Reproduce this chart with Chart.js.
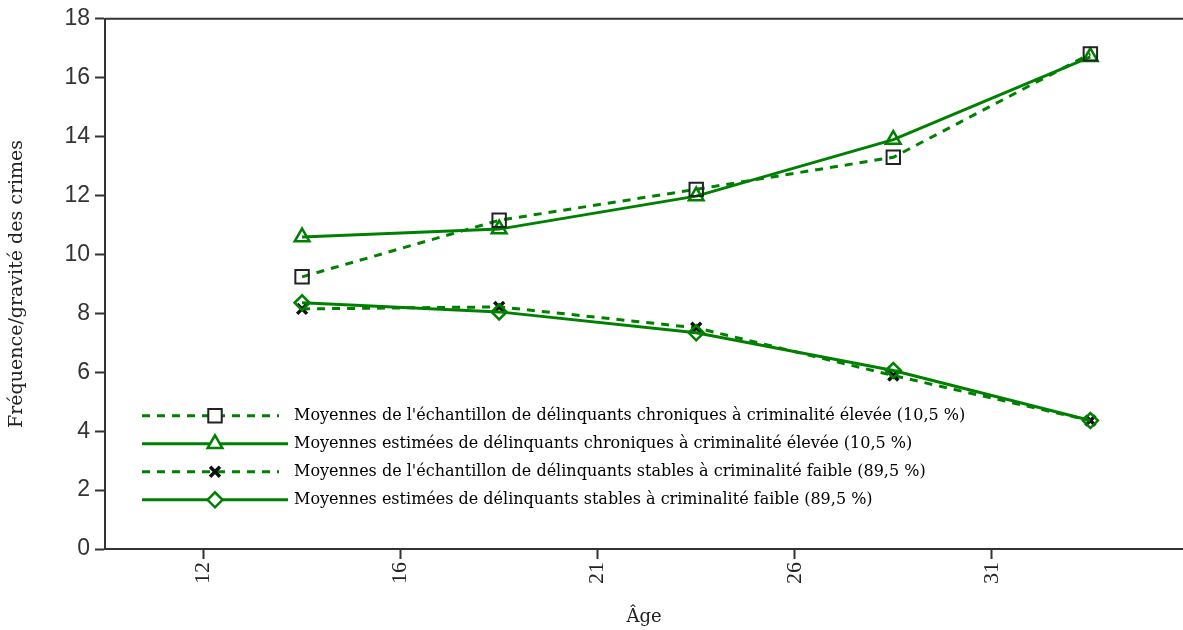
<!DOCTYPE html>
<html>
<head>
<meta charset="utf-8">
<style>
  html, body { margin: 0; padding: 0; background: #fff; }
  #wrap { width: 1183px; height: 630px; }
</style>
</head>
<body>
<script src="https://cdn.jsdelivr.net/npm/chart.js"></script>
<div id="wrap">
    <canvas id="myChart"></canvas>
</div>

<script>
// tick labels of the age axis, and where each age group sits between them
const ageTickLabels = ['12', '16', '21', '26', '31'];
const agePositions = [0.5, 1.5, 2.5, 3.5, 4.5];

// values
const chroniqueEchantillon = [9.24, 11.16, 12.21, 13.30, 16.81];
const chroniqueEstimee = [10.59, 10.86, 11.98, 13.90, 16.71];
const stableEchantillon = [8.15, 8.22, 7.51, 5.89, 4.36];
const stableEstimee = [8.36, 8.05, 7.34, 6.06, 4.36];

const seriesLabels = [
  "Moyennes de l'échantillon de délinquants chroniques à criminalité élevée (10,5 %)",
  "Moyennes estimées de délinquants chroniques à criminalité élevée (10,5 %)",
  "Moyennes de l'échantillon de délinquants stables à criminalité faible (89,5 %)",
  "Moyennes estimées de délinquants stables à criminalité faible (89,5 %)"
];

const GREEN = '#008000';

function toPoints(values) {
  return agePositions.map((x, i) => ({ x: x, y: values[i] }));
}

// legend drawn inside the plot, line sample + marker + text
const legendInside = {
  id: 'legendInside',
  afterDatasetsDraw(chart, args, opts) {
    const ctx = chart.ctx;
    const a = chart.chartArea;
    chart.data.datasets.forEach((ds, i) => {
      const y = a.top + opts.top + i * opts.rowHeight;
      ctx.save();
      ctx.strokeStyle = ds.borderColor;
      ctx.lineWidth = ds.borderWidth;
      ctx.setLineDash(ds.borderDash || []);
      ctx.beginPath();
      ctx.moveTo(a.left + opts.lineStart, y);
      ctx.lineTo(a.left + (ds.borderDash ? opts.dashEnd : opts.lineEnd), y);
      ctx.stroke();
      ctx.setLineDash([]);
      if (Chart.helpers && Chart.helpers.drawPoint) {
        ctx.strokeStyle = ds.pointBorderColor;
        ctx.fillStyle = '#fff';
        ctx.lineWidth = ds.pointBorderWidth;
        Chart.helpers.drawPoint(ctx, {
          pointStyle: ds.pointStyle,
          radius: ds.pointRadius,
          borderWidth: ds.pointBorderWidth,
          rotation: 0
        }, a.left + opts.marker, y);
      }
      ctx.fillStyle = '#000';
      ctx.font = opts.font;
      ctx.textBaseline = 'middle';
      ctx.textAlign = 'left';
      ctx.fillText(ds.label, a.left + opts.textStart, y);
      ctx.restore();
    });
  }
};

// top frame line
const topFrame = {
  id: 'topFrame',
  afterDraw(chart) {
    const ctx = chart.ctx;
    const a = chart.chartArea;
    ctx.save();
    ctx.strokeStyle = '#333';
    ctx.lineWidth = 2;
    ctx.beginPath();
    ctx.moveTo(a.left, a.top);
    ctx.lineTo(a.right, a.top);
    ctx.stroke();
    ctx.restore();
  }
};

const data = {
  datasets: [{
    label: seriesLabels[0],
    data: toPoints(chroniqueEchantillon),
    borderColor: GREEN,
    borderWidth: 3,
    borderDash: [8, 7],
    pointStyle: 'rect',
    pointRadius: 9.5,
    pointBorderColor: '#222',
    pointBackgroundColor: 'rgba(0,0,0,0)',
    pointBorderWidth: 2,
    order: 1
  }, {
    label: seriesLabels[1],
    data: toPoints(chroniqueEstimee),
    borderColor: GREEN,
    borderWidth: 3,
    pointStyle: 'triangle',
    pointRadius: 8.5,
    pointBorderColor: GREEN,
    pointBackgroundColor: 'rgba(0,0,0,0)',
    pointBorderWidth: 2.5,
    order: 2
  }, {
    label: seriesLabels[2],
    data: toPoints(stableEchantillon),
    borderColor: GREEN,
    borderWidth: 3,
    borderDash: [8, 7],
    pointStyle: 'crossRot',
    pointRadius: 7,
    pointBorderColor: '#111',
    pointBackgroundColor: 'rgba(0,0,0,0)',
    pointBorderWidth: 3.5,
    order: 4
  }, {
    label: seriesLabels[3],
    data: toPoints(stableEstimee),
    borderColor: GREEN,
    borderWidth: 3,
    pointStyle: 'rectRot',
    pointRadius: 7.5,
    pointBorderColor: GREEN,
    pointBackgroundColor: 'rgba(0,0,0,0)',
    pointBorderWidth: 2.5,
    order: 3
  }]
};

const config = {
  type: 'line',
  data: data,
  plugins: [legendInside, topFrame],
  options: {
    animation: false,
    responsive: true,
    maintainAspectRatio: false,
    devicePixelRatio: 1,
    layout: {
      autoPadding: false,
      padding: { top: 17, right: 0, bottom: 0, left: 0 }
    },
    plugins: {
      legend: { display: false },
      tooltip: { enabled: false },
      legendInside: {
        top: 397,
        rowHeight: 28,
        lineStart: 37,
        lineEnd: 183,
        dashEnd: 174,
        marker: 110,
        textStart: 189,
        font: '16px "DejaVu Serif"'
      }
    },
    scales: {
      x: {
        type: 'linear',
        min: -0.5,
        max: 4.97,
        afterBuildTicks: function(scale) {
          scale.ticks = ageTickLabels.map((l, i) => ({ value: i }));
        },
        afterFit: function(scale) {
          scale.height = 81;
          scale.paddingLeft = 0;
          scale.paddingRight = 0;
        },
        ticks: {
          autoSkip: false,
          minRotation: 90,
          maxRotation: 90,
          padding: 3,
          color: '#222',
          font: { family: '"Liberation Serif"', size: 22 },
          callback: function(value) {
            return ageTickLabels[value] !== undefined ? ageTickLabels[value] : '';
          }
        },
        grid: {
          display: true,
          drawOnChartArea: false,
          drawTicks: true,
          tickLength: 10,
          tickColor: '#333',
          tickWidth: 2
        },
        border: { display: true, color: '#333', width: 2 },
        title: {
          display: true,
          text: 'Âge',
          color: '#222',
          font: { family: '"DejaVu Serif"', size: 18 },
          padding: { top: 0, bottom: 2 }
        }
      },
      y: {
        min: 0,
        max: 18,
        afterFit: function(scale) {
          scale.width = 105;
        },
        ticks: {
          stepSize: 2,
          padding: 5,
          color: '#333',
          font: { family: '"Liberation Sans"', size: 23 }
        },
        grid: {
          display: true,
          drawOnChartArea: false,
          drawTicks: true,
          tickLength: 10,
          tickColor: '#333',
          tickWidth: 2
        },
        border: { display: true, color: '#333', width: 2 },
        title: {
          display: true,
          text: 'Fréquence/gravité des crimes',
          color: '#222',
          font: { family: '"DejaVu Serif"', size: 19 },
          padding: { top: 6, bottom: 0 }
        }
      }
    }
  }
};

const myChart = new Chart(
  document.getElementById('myChart'),
  config
);
</script>

</body>
</html>
